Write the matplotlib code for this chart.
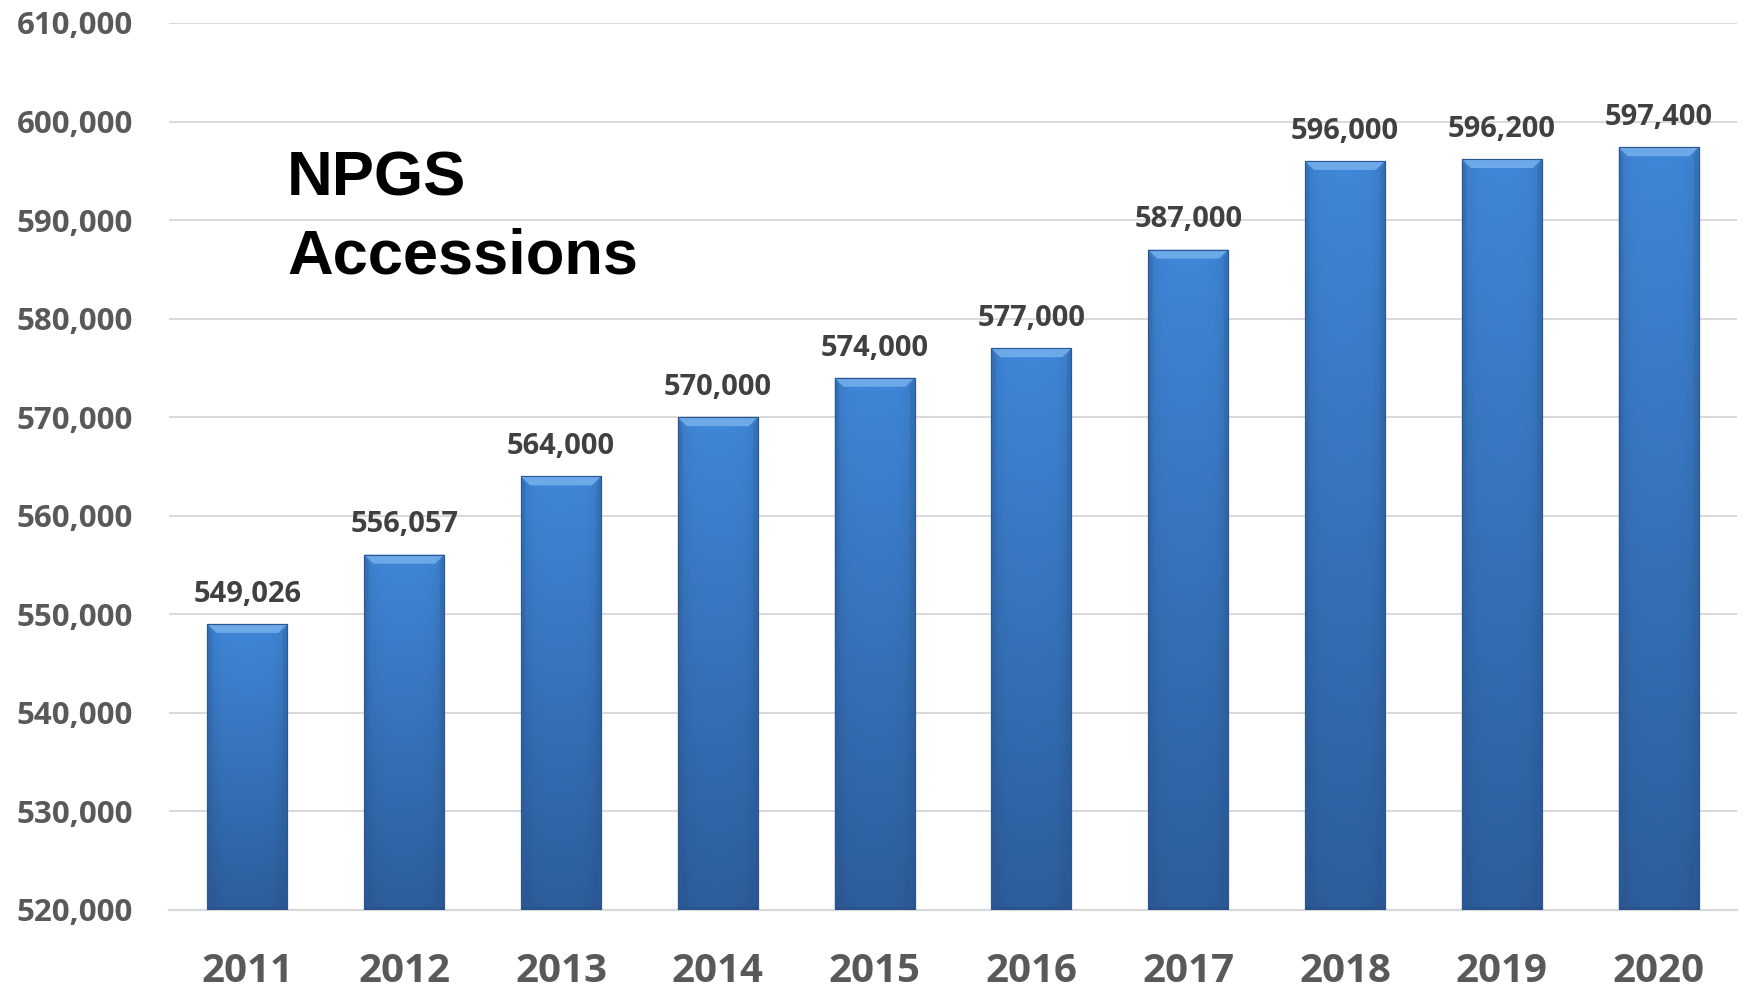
import matplotlib
matplotlib.use("Agg")
import matplotlib.pyplot as plt
import numpy as np
from matplotlib.patches import Polygon, Rectangle
from matplotlib.colors import to_rgb

years = ["2011", "2012", "2013", "2014", "2015", "2016", "2017", "2018", "2019", "2020"]
accessions = [549026, 556057, 564000, 570000, 574000, 577000, 587000, 596000, 596200, 597400]
value_labels = ["549,026", "556,057", "564,000", "570,000", "574,000", "577,000",
                "587,000", "596,000", "596,200", "597,400"]
y_ticks = list(range(520000, 610001, 10000))

LABEL_FONT = "Open Sans"

W, H = 1744, 992
fig = plt.figure(figsize=(W / 100, H / 100), dpi=100)
fig.patch.set_facecolor("white")
ax = fig.add_axes([169 / W, 1 - 910 / H, (1737 - 169) / W, (910 - 23) / H])

x = np.arange(len(years))
bars = ax.bar(x, accessions, width=0.51, color="#3A7CCB", edgecolor="#2B5690",
              linewidth=0.8, zorder=3)

ax.set_xlim(-0.5, len(years) - 0.5)
ax.set_ylim(520000, 610000)
ax.set_yticks(y_ticks)
ax.set_yticklabels([f"{v:,}" for v in y_ticks])
ax.set_xticks(x)
ax.set_xticklabels(years)

for s in ["top", "right", "left"]:
    ax.spines[s].set_visible(False)
ax.spines["bottom"].set_color("#D9D9D9")
ax.spines["bottom"].set_linewidth(1.6)
ax.spines["bottom"].set_zorder(2)
ax.grid(axis="y", color="#D9D9D9", linewidth=1.4, zorder=0)
ax.set_axisbelow(True)
ax.tick_params(axis="both", length=0)
ax.tick_params(axis="y", pad=26)
ax.tick_params(axis="x", pad=30)
for lab in ax.get_yticklabels():
    lab.set_fontfamily(LABEL_FONT)
    lab.set_fontweight("bold")
    lab.set_fontsize(22.5)
    lab.set_color("#595959")
for lab in ax.get_xticklabels():
    lab.set_fontfamily(LABEL_FONT)
    lab.set_fontweight("bold")
    lab.set_fontsize(29)
    lab.set_color("#595959")

# gradient fill + bevel for each bar
top_c = np.array(to_rgb("#3F87D8"))
bot_c = np.array(to_rgb("#2D5D9C"))
ny, nx = 200, 40
tv = np.linspace(0, 1, ny)[:, None]
base = top_c[None, None, :] * (1 - tv[..., None]) + bot_c[None, None, :] * tv[..., None]
xs = np.linspace(-1, 1, nx)[None, :]
shade = 1 - 0.10 * np.abs(xs) ** 4
img = np.clip(base * shade[..., None], 0, 1)

fig.canvas.draw()
inv = ax.transData.inverted()
ylo = ax.get_ylim()[0]
for b in bars:
    x0, y0 = b.get_x(), b.get_y()
    w, h = b.get_width(), b.get_height()
    vis_lo = max(y0, ylo)
    vis_hi = y0 + h
    clip_rect = Rectangle((x0, vis_lo), w, vis_hi - vis_lo, transform=ax.transData)
    im = ax.imshow(img, extent=[x0, x0 + w, vis_lo, vis_hi], aspect="auto",
                   origin="upper", zorder=3.5, interpolation="bilinear")
    im.set_clip_path(clip_rect)
    # bevel at top, sized in pixels
    px0, ptop = ax.transData.transform((x0, vis_hi))
    px1, _ = ax.transData.transform((x0 + w, vis_hi))
    pbot = ax.transData.transform((x0, vis_lo))[1]
    d = 9
    pts_px = [(px0, ptop), (px1, ptop), (px1 - d, ptop - d), (px0 + d, ptop - d)]
    ax.add_patch(Polygon(inv.transform(pts_px), closed=True, facecolor="#6DA8E8",
                         edgecolor="none", zorder=3.7))
    left_px = [(px0, ptop), (px0 + d * 0.5, ptop - d), (px0 + d * 0.5, pbot), (px0, pbot)]
    right_px = [(px1, ptop), (px1 - d * 0.5, ptop - d), (px1 - d * 0.5, pbot), (px1, pbot)]
    for pp in (left_px, right_px):
        ax.add_patch(Polygon(inv.transform(pp), closed=True, facecolor="#2F609F",
                             edgecolor="none", alpha=0.35, zorder=3.7))
    bot_px = [(px0, pbot), (px1, pbot), (px1, pbot + 3), (px0, pbot + 3)]
    ax.add_patch(Polygon(inv.transform(bot_px), closed=True, facecolor="#264F86",
                         edgecolor="none", alpha=0.6, zorder=3.7))
    ax.add_patch(Rectangle((x0, vis_lo), w, vis_hi - vis_lo, facecolor="none",
                           edgecolor="#2B5690", linewidth=0.8, zorder=3.8))

for xi, v, lab in zip(x, accessions, value_labels):
    ax.annotate(lab, (xi, v), xytext=(0, 16), textcoords="offset points",
                ha="center", va="baseline", fontsize=21, fontweight="bold",
                family=LABEL_FONT, color="#404040", zorder=5)

fig.text(287 / W, 1 - 195 / H, "NPGS", fontsize=45.5, fontweight="bold",
         family="Liberation Sans", color="black", ha="left", va="baseline")
fig.text(287 / W, 1 - 273 / H, "Accessions", fontsize=45.5, fontweight="bold",
         family="Liberation Sans", color="black", ha="left", va="baseline")

fig.savefig("out.png", dpi=100, facecolor="white")
